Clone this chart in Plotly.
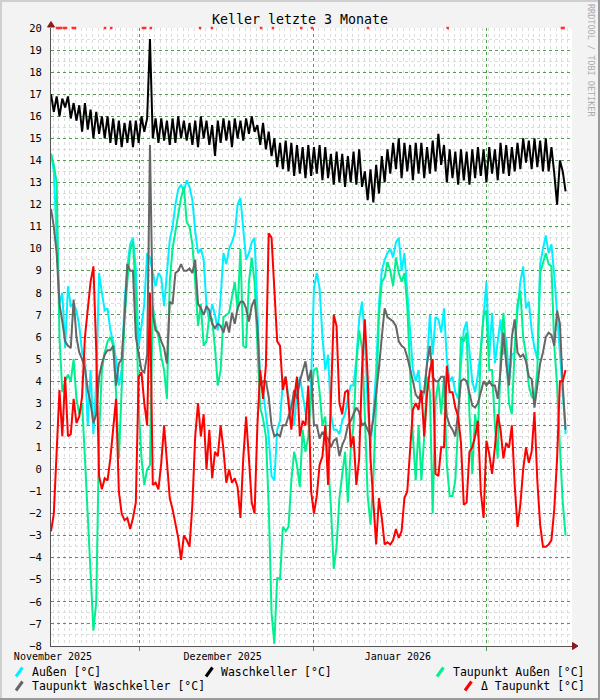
import pandas as pd
import plotly.graph_objects as go

# ---------------- data: half-day samples ----------------
aussen = [
    14.3, 13.5, 10.5, 7.5, 8.0, 5.5, 8.3, 7.4, 7.5, 7.2,
    6.5, 5.3, 5.0, 2.0, 4.5, 1.6, 4.0, 8.9, 8.0, 7.2,
    7.3, 6.3, 5.8, 5.0, 3.8, 4.5, 7.6, 9.2, 10.2, 10.5,
    9.1, 5.6, 6.5, 7.5, 9.8, 9.6, 8.9, 8.3, 8.9, 8.7,
    7.4, 9.0, 10.4, 11.0, 12.0, 12.7, 12.9, 12.6, 13.1, 12.8,
    12.2, 10.8, 9.8, 10.0, 9.5, 7.4, 6.7, 7.5, 7.0, 6.3,
    7.8, 9.8, 9.3, 10.0, 10.3, 10.7, 12.0, 12.3, 11.0, 9.5,
    9.8, 10.3, 10.5, 7.0, 4.0, 3.5, 2.5, 1.5, -0.3, -0.5,
    1.8, 2.2, 4.0, 4.2, 3.3, 2.5, 2.0, 3.5, 4.2, 3.3,
    2.6, 2.0, 4.0, 8.2, 8.9, 8.2, 6.0, 4.5, 5.2, 2.5,
    1.8, 1.8, 1.6, 2.2, 2.5, 3.2, 3.8, 3.8, 5.0, 6.8,
    7.6, 6.0, 3.0, 1.0, 2.5, 4.5, 7.5, 9.0, 9.5, 9.8,
    10.0, 9.6, 10.3, 10.5, 9.0, 9.8, 7.8, 6.3, 4.5, 4.0,
    4.5, 3.0, 3.5, 4.8, 7.0, 5.2, 6.9, 6.8, 6.2, 7.3,
    5.0, 4.0, 4.2, 3.5, 3.2, 4.9, 6.3, 6.7, 5.3, 4.0,
    3.5, 4.3, 5.4, 6.9, 8.5, 5.1, 7.1, 4.8, 5.8, 6.8,
    5.2, 6.0, 4.0, 5.2, 5.3, 7.2, 8.5, 9.2, 7.3, 7.6,
    6.3, 5.5, 5.0, 9.3, 10.0, 10.6, 9.8, 10.2, 8.8, 7.1,
    5.5, 3.5, 1.6,
]

waschkeller = [
    17.0, 16.2, 16.9, 16.0, 16.8, 16.4, 16.9, 15.9, 16.6, 15.8,
    16.5, 15.3, 16.6, 15.4, 16.3, 15.0, 16.2, 15.2, 16.0, 15.0,
    16.0, 14.8, 15.9, 14.7, 15.8, 14.6, 15.7, 14.8, 15.8, 14.6,
    15.8, 14.8, 16.0, 15.3, 15.9, 19.5, 15.0, 15.9, 14.8, 15.9,
    14.9, 15.8, 14.7, 15.9, 14.8, 16.0, 15.0, 15.8, 14.9, 15.7,
    14.7, 15.8, 14.6, 16.0, 15.0, 15.8, 14.7, 15.6, 14.2, 15.8,
    14.8, 15.9, 14.9, 15.8, 14.6, 15.9, 15.0, 15.8, 14.9, 15.9,
    15.2, 16.0, 15.3, 15.6, 14.7, 15.7, 14.5, 15.3, 14.2, 15.0,
    13.7, 14.8, 13.6, 14.9, 13.5, 14.8, 13.3, 14.7, 13.4, 14.6,
    13.2, 14.7, 13.3, 14.6, 13.4, 14.7, 13.1, 14.6, 13.2, 14.3,
    12.9, 14.4, 13.0, 14.3, 12.8, 14.2, 13.0, 14.4, 12.9, 14.5,
    12.8, 13.5, 12.2, 13.6, 12.1, 13.8, 12.5, 14.2, 13.0, 14.5,
    13.4, 14.8, 13.6, 15.0, 13.2, 14.8, 13.5, 14.7, 13.1, 14.8,
    13.4, 14.8, 13.2, 14.6, 13.4, 14.9, 13.5, 15.2, 13.8, 14.7,
    13.0, 14.5, 13.2, 14.4, 12.9, 14.5, 13.1, 14.4, 12.9, 14.5,
    13.2, 14.6, 13.3, 14.5, 13.0, 14.6, 13.4, 14.5, 13.1, 14.8,
    13.4, 14.7, 13.3, 14.6, 13.5, 14.8, 13.6, 15.0, 13.9, 14.9,
    13.6, 15.0, 13.7, 14.9, 13.5, 15.0, 13.5, 14.6, 13.4, 12.0,
    14.0, 13.5, 12.6,
]

taupunkt_aussen = [
    14.3, 13.8, 13.0, 6.0, 3.5, 4.0, 4.3, 4.0, 5.0, 3.2,
    2.5, 3.0, 0.5, -2.0, -4.5, -7.3, -6.0, 1.5, 4.5, 5.3,
    5.8, 6.0, 5.6, 3.5, 0.5, 3.5, 6.8, 8.5, 10.0, 10.3,
    8.0, 2.9, 0.5, -0.7, 0.0, 0.2, 7.4, 6.5, 6.0, 5.1,
    4.5, 3.2, 8.5, 10.0, 10.8, 11.5, 12.3, 12.8, 11.2, 11.0,
    10.2, 8.5, 6.5, 7.5, 5.6, 5.8, 7.0, 6.8, 5.5, 3.8,
    4.5, 6.9, 7.0, 7.1, 7.8, 8.5, 7.2, 10.0, 5.6, 5.5,
    8.5, 9.6, 8.5, 5.5, 2.8, 2.3, 1.5, -1.6, -6.5, -7.9,
    -4.9, -5.0, -2.6, -2.8, -2.6, -0.5, 0.8, 0.2, -0.8, 1.8,
    0.8, 1.5, 3.3, 4.5, 4.6, 3.5, 2.0, 2.4, 0.2, -1.7,
    -4.5, -3.5, -1.3, -0.3, 0.8, -1.5, 0.9, 2.0, 4.8, 6.3,
    5.5, 2.5, -1.2, -2.5, -0.5, 3.1, 7.0, 8.5, 8.7, 9.4,
    9.0, 8.3, 9.6, 8.9, 8.5, 8.9, 7.4, 4.5, 1.5, -0.5,
    2.0, -0.5, 1.5, 4.2, 3.5, -2.0, 3.1, 4.0, 2.5, 4.2,
    0.2, -1.2, -1.2, -0.5, 2.0, 6.0, 5.8, 6.2, 2.5, -0.2,
    2.5, 1.5, 5.4, 7.0, 7.2, 4.5, 4.5, 2.0, 0.5, 5.0,
    7.1, 5.3, 3.0, 2.5, 5.5, 7.5, 8.1, 6.0, 5.2, 3.8,
    3.3, 3.2, 4.5, 8.9, 9.4, 9.8, 9.3, 9.2, 5.6, 3.8,
    1.0, -1.5, -3.0,
]

taupunkt_waschkeller = [
    11.8, 11.0, 9.8, 7.5, 6.7, 5.8, 5.6, 5.5, 7.7, 6.0,
    5.3, 5.0, 4.6, 3.6, 3.0, 2.1, 2.5, 4.2, 4.8, 5.2,
    5.4, 5.4, 5.6, 3.8, 4.8, 5.0, 6.9, 9.3, 9.0, 9.0,
    6.0, 5.3, 4.5, 4.4, 5.2, 14.7, 7.0, 6.3, 6.2, 5.8,
    5.5, 4.8, 7.6, 7.5, 8.9, 9.0, 9.3, 9.0, 9.0, 9.1,
    8.9, 9.5, 7.5, 7.3, 7.0, 7.4, 7.2, 6.6, 6.4, 6.6,
    6.5, 6.2, 6.7, 6.2, 7.1, 6.6, 7.3, 7.6, 7.6, 7.3,
    6.7, 7.4, 7.7, 6.5, 3.8, 4.0, 4.0, 3.3, 2.0, 1.5,
    1.6, 1.5, 2.0, 2.0, 2.4, 2.8, 3.6, 3.2, 4.0, 4.5,
    4.9, 4.0, 4.5, 2.0, 2.0, 1.4, 1.7, 1.5, 1.4, 1.0,
    1.3, 1.4, 0.6, 1.1, 1.4, 2.0, 2.2, 2.5, 2.8, 2.6,
    2.0, 2.1, 1.8, 1.5, 2.3, 3.4, 4.6, 6.0, 7.3, 6.9,
    6.8, 6.7, 6.5, 5.8, 5.6, 5.5, 5.1, 4.6, 4.0, 3.4,
    3.2, 3.5, 3.5, 4.8, 5.6, 4.2, 4.0, 4.0, 4.2, 4.2,
    2.4, 2.0, 1.8, 1.5, 2.6, 4.0, 4.1, 4.0, 3.4, 2.9,
    2.8, 3.0, 3.5, 4.0, 3.8, 4.0, 3.8, 3.8, 3.2, 4.5,
    6.2, 4.8, 3.8, 6.0, 6.8, 5.3, 5.1, 5.2, 4.9, 4.2,
    4.1, 2.8, 3.8, 4.8, 5.3, 6.0, 6.2, 6.1, 5.6, 7.2,
    6.6, 3.8, 1.8,
]

delta_taupunkt = [
    -2.8, -2.0, 0.8, 3.6, 1.5, 4.2, 1.5, 1.6, 3.2, 2.1,
    2.4, 3.3, 6.0, 7.3, 8.5, 9.2, 5.4, -0.3, -0.9, -0.4,
    -0.5, 0.5, 2.0, 3.2, -1.0, -2.0, -2.3, -2.2, -2.7, -2.2,
    -1.5, 4.2, 4.4, 3.0, 2.0, 8.0, -0.7, -0.6, -0.9, 0.3,
    2.0, 0.5, -1.3, -1.8, -2.5, -3.1, -4.1, -3.0, -3.2, -3.5,
    -1.6, 1.5, 3.0, 1.5, 2.5, 0.0, 1.8, -0.4, 0.8, 0.6,
    2.0, 0.9, -0.6, 0.0, -0.6, -0.4, -0.8, -2.2, 0.5, 2.4,
    0.5, -1.5, -2.0, 2.0, 4.5, 3.2, 4.7, 10.7, 10.5, 8.0,
    5.8, 5.6, 3.6, 4.2, 3.0, 1.8, 3.2, 4.2, 1.5, 2.2,
    2.0, 3.8, -1.0, -2.0, -1.2, 0.2, 0.6, 2.0, -0.7, 3.0,
    7.0, 6.5, 3.0, 2.5, 3.5, 3.6, 1.0, 1.5, -0.7, 0.5,
    4.5, 6.8, 4.2, 0.5, -1.6, -3.4, -1.3, -2.2, -3.4, -3.3,
    -3.4, -3.2, -2.7, -3.1, -2.8, -1.3, -1.0, 1.0, 2.7, 3.0,
    2.7, 3.6, 1.5, 3.4, 4.5, 5.0, -0.2, -0.3, 1.0, 1.0,
    4.7, 3.5, 3.5, 2.8, 2.4, 1.2, -1.6, -1.5, 0.8, 1.0,
    1.5, 2.2, -1.0, -2.2, 1.3, 0.7, -0.2, 1.0, 2.5, 1.8,
    0.5, 1.2, 1.0, 2.0, -0.7, -2.6, -1.6, 0.0, 1.0, 0.3,
    0.8, 2.6, -0.5, -2.5, -3.5, -3.5, -3.4, -3.2, -1.8, 0.5,
    4.0, 4.0, 4.5,
]

# red marks along the top edge (days after 2025-11-01)
mark_days = [0.7, 1.1, 1.4, 1.9, 2.3, 3.5, 3.9, 9.2, 10.3, 15.9, 16.3, 17.3,
             26.0, 28.1, 36.8, 38.9, 43.9, 45.8, 55.7, 69.8, 90.0, 90.3]

start_time = "2025-10-31 15:30"
x_range = ["2025-10-31 15:30", "2026-01-31 18:45"]
month_ticks = ["2025-11-01", "2025-12-01", "2026-01-01"]
month_labels = ["November 2025", "Dezember 2025", "Januar 2026"]
major_grid = ["2025-11-16 05:00", "2025-12-17 00:00", "2026-01-16 17:00"]

series_names = ["Außen [°C]", "Waschkeller [°C]", "Taupunkt Außen [°C]",
                "Taupunkt Waschkeller [°C]", "Δ Taupunkt [°C]"]
series_colors = ["#00F0FF", "#000000", "#00F090", "#666666", "#FF0000"]

# ---------------- figure ----------------
times = pd.date_range(start_time, periods=len(aussen), freq="12h")
series = [aussen, waschkeller, taupunkt_aussen, taupunkt_waschkeller, delta_taupunkt]

fig = go.Figure()
for name, col, vals in zip(series_names, series_colors, series):
    fig.add_trace(go.Scatter(x=times, y=vals, mode="lines", name=name,
                             line=dict(color=col, width=2), hoverinfo="skip"))

mark_times = [pd.Timestamp("2025-11-01") + pd.Timedelta(days=d) for d in mark_days]
fig.add_trace(go.Scatter(x=mark_times, y=[20] * len(mark_times), mode="markers",
                         xaxis="x2", yaxis="y", cliponaxis=False,
                         marker=dict(symbol="square", size=2.5, color="#FF3030",
                                     line=dict(width=0)),
                         hoverinfo="skip", showlegend=False))

FONT = "DejaVu Sans Mono"
PL, PR, PT, PB = 51, 572, 28, 646  # plot box in pixels


def px(x, y):
    return (x - PL) / (PR - PL), (PB - y) / (PB - PT)


shapes = []
# frame around the whole image
for (x0, y0, x1, y1, c) in [(0, 1, 600, 1, "#cfcfcf"), (1, 0, 1, 700, "#cfcfcf"),
                            (0, 699, 600, 699, "#9a9a9a"), (599, 0, 599, 700, "#9a9a9a")]:
    a, b = px(x0, y0)
    c2, d = px(x1, y1)
    shapes.append(dict(type="line", xref="paper", yref="paper", x0=a, y0=b, x1=c2, y1=d,
                       line=dict(color=c, width=2)))


def tri(points, color):
    pts = [px(x, y) for x, y in points]
    path = "M {} {} L {} {} L {} {} Z".format(pts[0][0], pts[0][1], pts[1][0], pts[1][1],
                                              pts[2][0], pts[2][1])
    return dict(type="path", xref="paper", yref="paper", path=path,
                fillcolor=color, line=dict(color=color, width=1))


shapes.append(tri([(51, 21.5), (47.5, 27), (54.5, 27)], "#8B1A1A"))
shapes.append(tri([(578, 646), (572.5, 642.5), (572.5, 649.5)], "#8B1A1A"))

# legend entries: (icon x, row y, text x, label, color)
legend_rows = [
    (15, 672, 30, series_names[0], series_colors[0]),
    (205, 672, 219, series_names[1], series_colors[1]),
    (436, 672, 451, series_names[2], series_colors[2]),
    (15, 686, 30, series_names[3], series_colors[3]),
    (464, 686, 479, series_names[4], series_colors[4]),
]
annotations = []
for ix, ry, tx, label, col in legend_rows:
    a, b = px(ix + 1, ry + 4.5)
    c2, d = px(ix + 7.5, ry - 4.5)
    shapes.append(dict(type="line", xref="paper", yref="paper", x0=a, y0=b, x1=c2, y1=d,
                       line=dict(color=col, width=3)))
    tx_p, ty_p = px(tx, ry)
    annotations.append(dict(text=label, xref="paper", yref="paper", x=tx_p, y=ty_p,
                            xanchor="left", yanchor="middle", showarrow=False,
                            font=dict(family=FONT, size=11.5, color="#000")))

# title
tx_p, ty_p = px(300, 19)
annotations.append(dict(text="Keller letzte 3 Monate", xref="paper", yref="paper",
                        x=tx_p, y=ty_p, xanchor="center", yanchor="middle", showarrow=False,
                        font=dict(family=FONT, size=13.3, color="#000")))
# vertical watermark
tx_p, ty_p = px(591, 60)
annotations.append(dict(text="RRDTOOL / TOBI OETIKER", xref="paper", yref="paper",
                        x=tx_p, y=ty_p, xanchor="center", yanchor="middle", showarrow=False,
                        textangle=90, font=dict(family=FONT, size=8.5, color="#ababab")))

grid_major = "#4e9e4e"
grid_minor = "#dcdcdc"

fig.update_layout(
    width=600, height=700,
    margin=dict(l=PL, r=600 - PR, t=PT, b=700 - PB, pad=0),
    paper_bgcolor="#f3f3f3", plot_bgcolor="#ffffff",
    showlegend=False,
    font=dict(family=FONT, size=11, color="#000"),
    shapes=shapes,
    annotations=annotations,
    xaxis=dict(type="date", range=x_range, tickmode="array", tickvals=month_ticks,
               ticktext=month_labels, showgrid=False, zeroline=False,
               showline=True, linecolor="#555555", linewidth=1, ticks="",
               ticklabelstandoff=1,
               tickfont=dict(family=FONT, size=10, color="#000"),
               minor=dict(dtick=86400000, tick0="2025-11-01", showgrid=True,
                          gridcolor=grid_minor, griddash="dot", gridwidth=1)),
    xaxis2=dict(type="date", range=x_range, overlaying="x", side="bottom",
                tickmode="array", tickvals=major_grid, showticklabels=False,
                showgrid=True, gridcolor=grid_major, griddash="dot", gridwidth=1,
                ticks="outside", ticklen=4, tickcolor=grid_major, zeroline=False),
    yaxis=dict(range=[-8, 20], tickmode="linear", tick0=0, dtick=1,
               showgrid=True, gridcolor=grid_major, griddash="dot", gridwidth=1,
               zeroline=False, showline=True, linecolor="#555555", linewidth=1,
               ticks="", ticklabelstandoff=6,
               tickfont=dict(family=FONT, size=10.5, color="#000"),
               minor=dict(dtick=0.5, showgrid=True, gridcolor=grid_minor,
                          griddash="dot", gridwidth=1)),
)

fig.write_html("out.html",
               config={"displayModeBar": False, "staticPlot": True},
               post_script="document.body.style.margin='0';document.body.style.padding='0';"
                           "document.documentElement.style.overflow='hidden';")
